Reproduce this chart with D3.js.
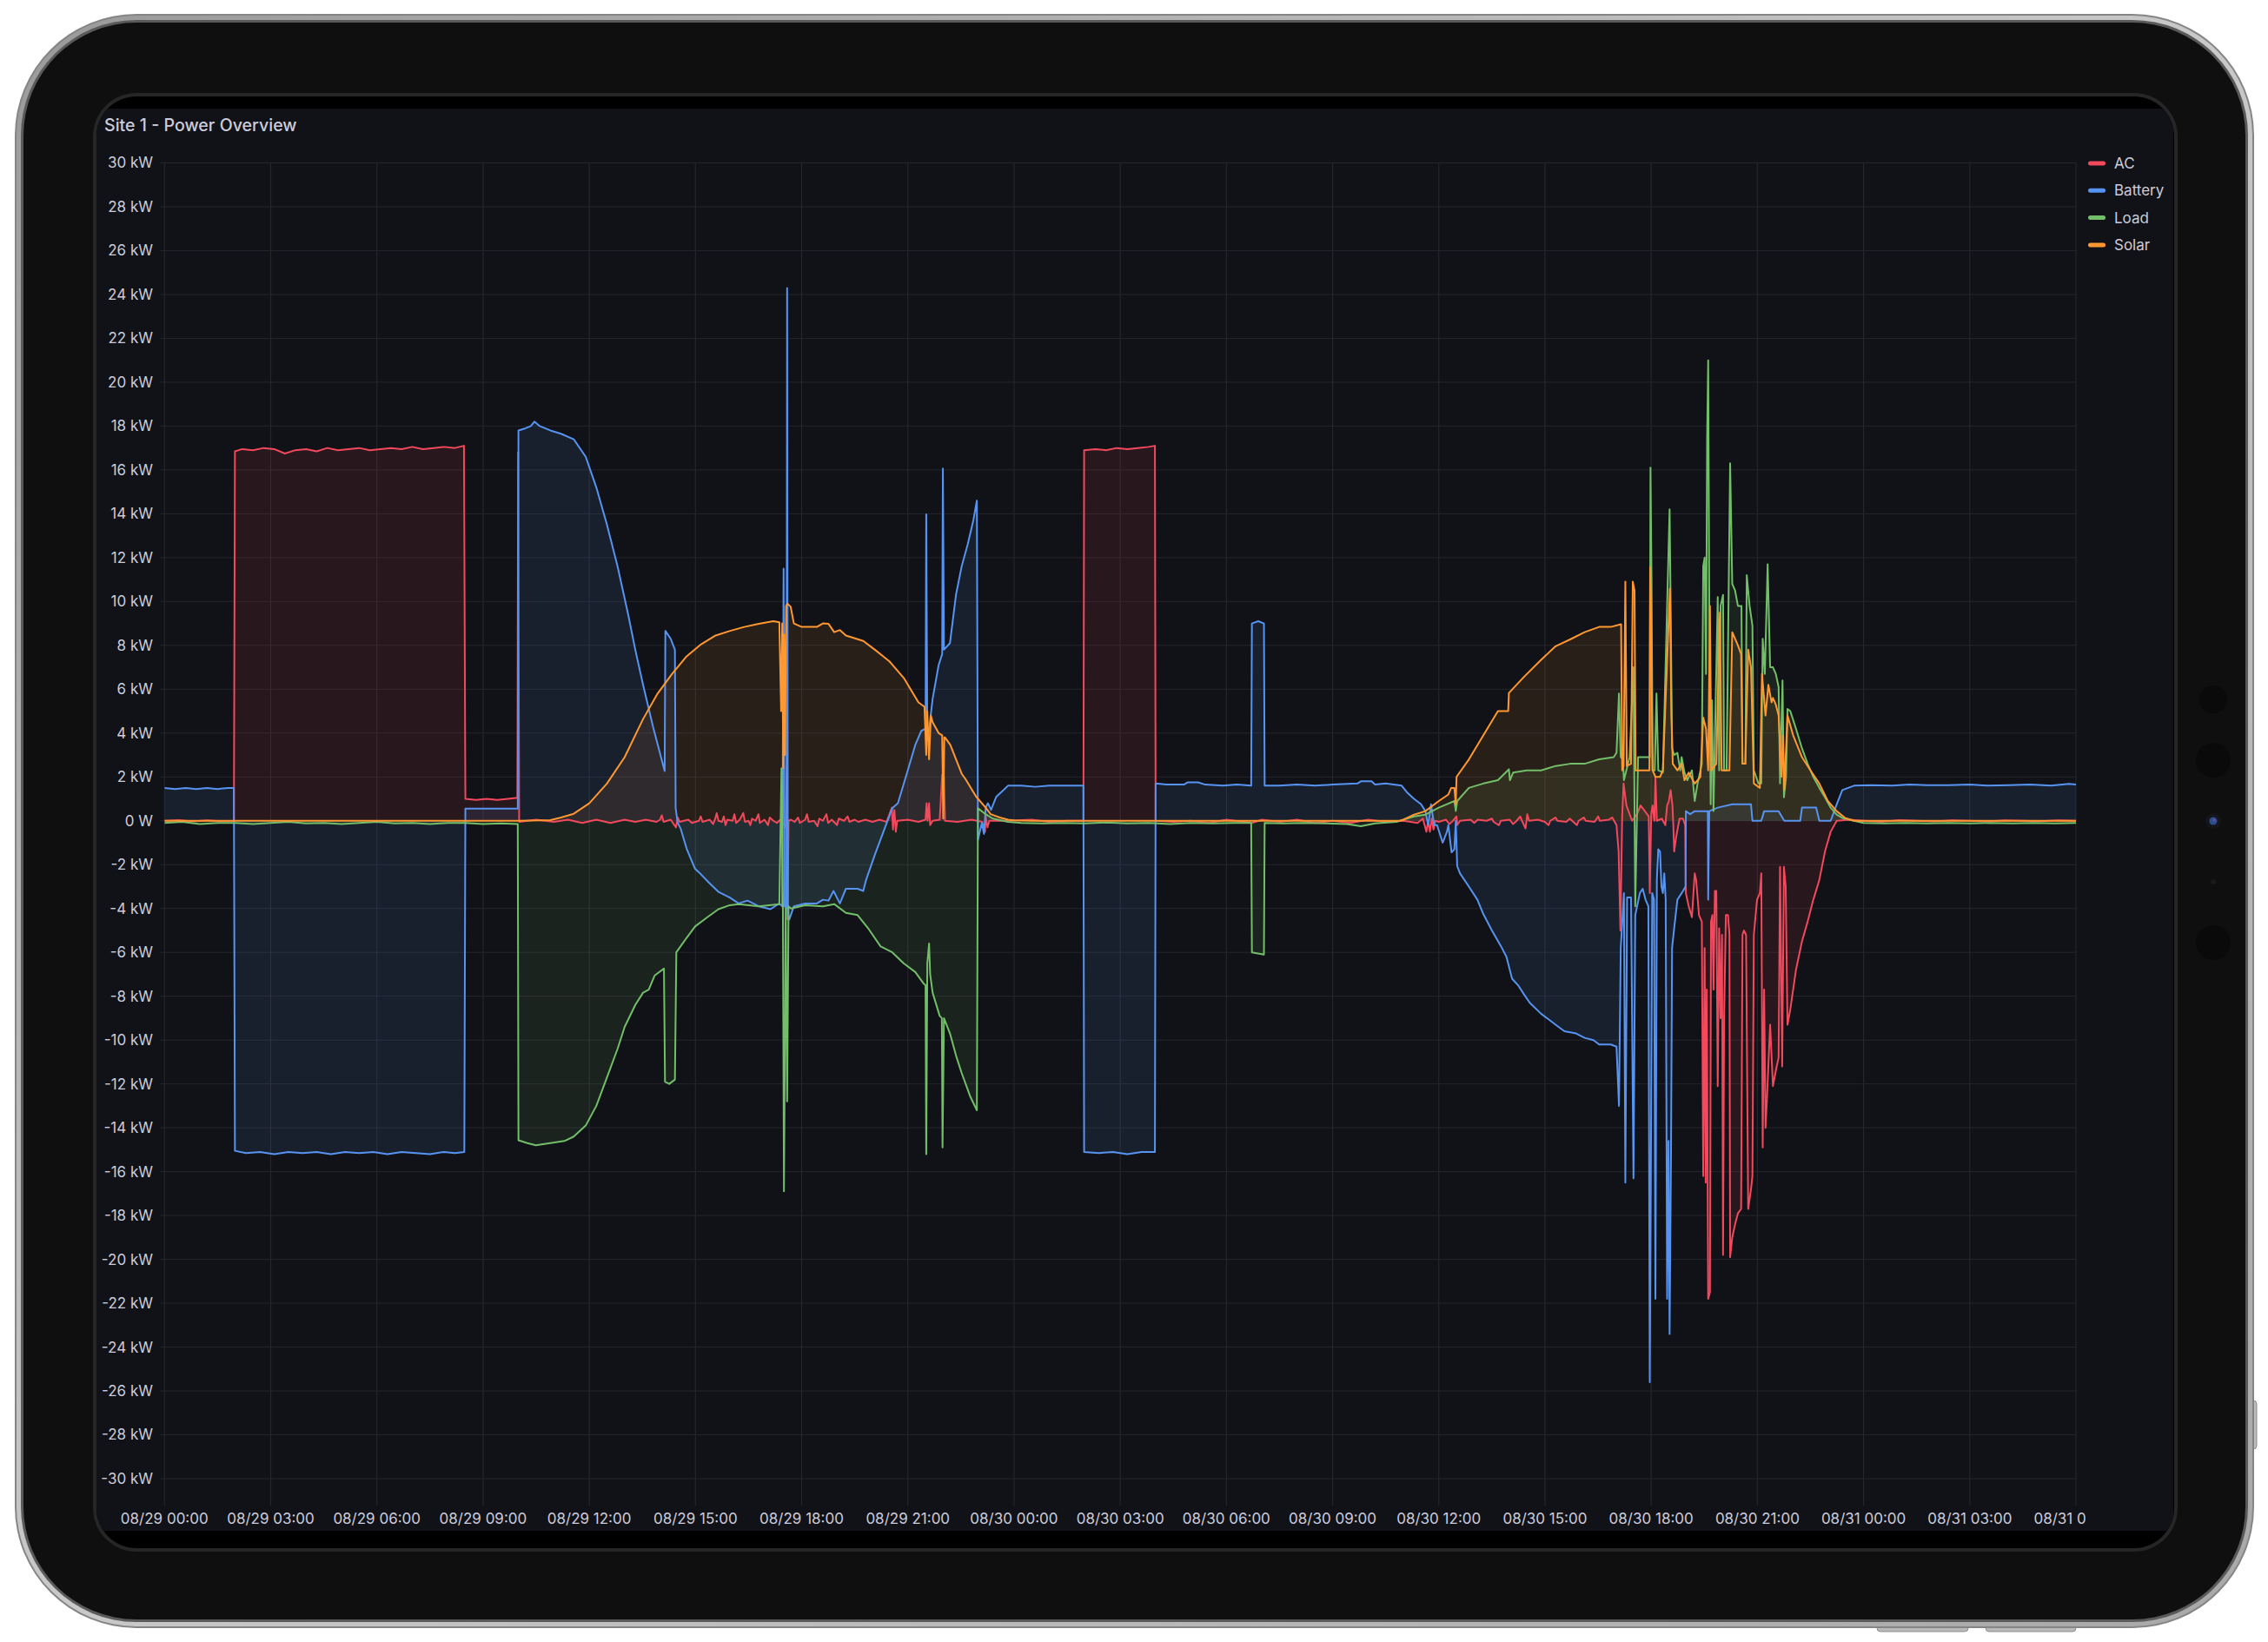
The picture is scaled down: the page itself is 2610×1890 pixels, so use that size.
<!DOCTYPE html>
<html>
<head>
<meta charset="utf-8">
<script src="https://cdn.jsdelivr.net/npm/d3@7"></script>
<style>
html,body{margin:0;padding:0;background:#ffffff;}
svg{display:block;font-family:Inter,"Noto Sans",sans-serif;}
</style>
</head>
<body>
<svg id="c" width="2610" height="1890"></svg>
<script>
// ---------------- DATA (hours since 08/29 00:00, kW) ----------------
const panelTitle = "Site 1 - Power Overview";
const seriesNames = ["AC", "Battery", "Load", "Solar"];
const yTickValues = d3.range(-30, 31, 2);
const rangeHours = 54;

const acData = [
 [0,0],[0.4,0.03],[0.8,-0.03],[1.2,0.02],[1.6,-0.02],[1.96,0],
 [1.99,16.85],[2.2,16.95],[2.5,16.9],[2.8,17.0],[3.1,16.95],[3.4,16.75],[3.7,16.9],[4.0,16.95],[4.3,16.85],[4.6,17.0],[4.9,16.9],[5.2,16.95],[5.5,17.0],[5.8,16.9],[6.1,16.95],[6.4,17.0],[6.7,16.95],[7.0,17.05],[7.3,16.95],[7.6,17.0],[7.9,17.05],[8.2,17.0],[8.46,17.1],
 [8.5,1.0],[8.8,0.95],[9.1,1.0],[9.4,0.95],[9.7,1.0],[9.97,1.05],[9.99,16.8],[10.02,-0.05],
 [10.5,0.05],[11.0,-0.05],[11.4,0.05],[11.8,-0.1],[12.2,0.05],[12.6,-0.1],[13.0,0.05],[13.3,-0.05],[13.6,0.05],[13.9,-0.05],[14.0,0.05],[14.05,0.25],[14.1,-0.05],[14.3,0.05],[14.45,-0.3],[14.5,0.15],[14.55,-0.05],[14.8,0.05],[14.9,-0.1],[15.1,0.0],[15.15,0.2],[15.2,-0.05],[15.4,0.05],[15.5,-0.15],[15.55,0.05],[15.6,0.35],[15.65,0.0],[15.75,-0.05],[15.8,0.2],[15.85,-0.2],[15.9,0.05],[16.05,0.0],[16.1,0.3],[16.15,-0.1],[16.25,0.05],[16.35,0.35],[16.4,-0.05],[16.5,0.0],[16.55,-0.2],[16.6,0.1],[16.7,0.0],[16.78,0.3],[16.82,-0.1],[16.95,0.05],[17.05,-0.2],[17.1,0.15],[17.2,0.0],[17.3,-0.1],[17.4,0.05],[17.55,-0.3],[17.58,2.5],[17.6,-4.5],[17.63,0.0],[17.7,0.05],[17.8,-0.05],[17.9,0.15],[17.95,-0.1],[18.1,0.05],[18.15,0.3],[18.2,-0.05],[18.35,0.0],[18.45,-0.25],[18.5,0.1],[18.6,0.0],[18.7,0.3],[18.75,-0.1],[18.85,0.05],[19.0,-0.2],[19.05,0.1],[19.2,0.0],[19.3,0.2],[19.35,-0.05],[19.5,0.05],[19.6,-0.05],[19.8,0.05],[20.0,-0.05],[20.2,0.05],[20.4,-0.05],[20.55,0.6],[20.58,-0.4],[20.62,0.5],[20.66,-0.5],[20.7,0.0],[21.0,0.05],[21.3,-0.05],[21.5,0.05],[21.53,0.8],[21.56,0.0],[21.6,0.8],[21.63,-0.2],[21.7,0.0],[21.9,0.05],[21.97,2.1],[22.02,2.0],[22.05,0.0],[22.4,-0.05],[22.8,0.05],[23.1,-0.05],[23.18,-0.5],[23.2,0.2],[23.25,-0.3],[23.3,0.0],[23.8,0.0],[24.5,0.05],[25.0,-0.05],[25.5,0.0],[25.96,0.0],
 [25.98,16.9],[26.3,16.95],[26.6,16.9],[26.9,17.0],[27.2,16.95],[27.5,17.0],[27.8,17.05],[27.98,17.1],[28.0,0.0],
 [28.5,-0.05],[29,0],[29.5,-0.1],[30,0.05],[30.5,-0.05],[30.72,-0.1],[31,0.05],[31.5,-0.05],[32,0.05],[32.5,-0.1],[33,0],[33.5,-0.1],[34,0.05],[34.5,-0.05],[35,0],[35.4,-0.1],[35.55,0.1],[35.65,-0.5],[35.7,0],[35.75,-0.5],[35.8,0.1],[35.85,-0.4],[35.9,0],[36.0,-0.05],[36.2,0.05],[36.3,-0.15],[36.4,0.0],[36.5,0.2],[36.52,-0.2],[36.6,0.0],[36.9,0.05],[37.0,-0.1],[37.1,0.05],[37.35,0.0],[37.5,0.1],[37.55,-0.05],[37.7,-0.2],[37.75,0.0],[38.0,0.05],[38.1,-0.15],[38.2,0.0],[38.3,0.2],[38.35,0.0],[38.45,-0.35],[38.5,0.3],[38.55,0.0],[38.8,0.05],[39.0,-0.05],[39.1,-0.2],[39.15,0.0],[39.3,0.15],[39.35,0.0],[39.6,-0.05],[39.7,0.1],[39.9,-0.2],[39.95,0.0],[40.1,0.15],[40.15,0.0],[40.4,-0.05],[40.5,0.2],[40.55,0.0],[40.8,0.05],[40.9,0.15],[41.02,-0.2],
 [41.08,-1.4],[41.13,-5.0],[41.18,0.2],[41.22,1.7],[41.3,0.7],[41.46,0],[41.6,0.3],[41.7,0.7],[41.84,0.4],[41.93,0.2],[41.96,-3.3],[42.0,0.3],[42.04,0.7],[42.09,0],[42.12,2.0],[42.16,0],[42.3,0.1],[42.4,-0.2],[42.45,0.7],[42.5,0.9],[42.55,1.4],[42.6,0.7],[42.62,0],[42.65,-1.4],[42.7,-0.8],[42.8,0.1],[42.9,0.1],[42.96,-0.2],
 [42.98,-3.3],[43.06,-3.9],[43.15,-4.4],[43.23,-2.4],[43.27,-2.7],[43.35,-4.3],[43.43,-4.6],[43.47,-16.2],[43.51,-5.8],[43.54,-16.5],[43.57,-7.7],[43.61,-21.8],[43.66,-21.5],[43.69,-4.6],[43.73,-4.3],[43.76,-7.7],[43.8,-3.2],[43.84,-3.2],[43.88,-12.1],[43.92,-4.9],[43.96,-9.0],[44.0,-5.2],[44.03,-19.8],[44.06,-9.0],[44.11,-4.3],[44.17,-4.3],[44.21,-5.2],[44.23,-19.9],[44.29,-19.0],[44.37,-18.4],[44.45,-17.9],[44.54,-17.7],[44.58,-5.2],[44.62,-5.0],[44.68,-5.2],[44.74,-17.7],[44.82,-16.8],[44.86,-16.2],[44.9,-5.2],[44.99,-3.6],[45.07,-3.3],[45.11,-2.4],[45.15,-14.9],[45.19,-7.7],[45.23,-14.0],[45.27,-12.7],[45.36,-9.3],[45.44,-12.1],[45.52,-11.4],[45.6,-10.8],[45.64,-2.1],[45.7,-11.2],[45.75,-2.1],[45.8,-3.0],[45.85,-9.3],[45.93,-8.6],[46.09,-6.8],[46.26,-5.5],[46.42,-4.6],[46.58,-3.6],[46.75,-2.7],[46.91,-1.4],[47.07,-0.5],[47.24,0],
 [47.6,0.05],[48,0],[48.5,-0.05],[49,0.03],[49.5,0],[50,-0.03],[50.5,0.02],[51,0],[51.5,-0.03],[52,0.02],[52.5,0],[53,-0.02],[53.5,0.02],[54,0]
];

const batteryData = [
 [0,1.5],[0.3,1.45],[0.6,1.5],[0.9,1.45],[1.2,1.5],[1.5,1.45],[1.8,1.5],[1.96,1.5],
 [1.99,-15.05],[2.3,-15.15],[2.7,-15.1],[3.1,-15.2],[3.5,-15.1],[3.9,-15.15],[4.3,-15.1],[4.7,-15.2],[5.1,-15.1],[5.5,-15.15],[5.9,-15.1],[6.3,-15.2],[6.7,-15.1],[7.1,-15.15],[7.5,-15.2],[7.9,-15.1],[8.2,-15.15],[8.47,-15.1],
 [8.5,0.55],[9.0,0.55],[9.5,0.55],[9.98,0.55],
 [10.0,17.8],[10.2,17.9],[10.35,18.0],[10.45,18.2],[10.6,18.0],[10.9,17.8],[11.2,17.65],[11.56,17.4],[11.9,16.6],[12.2,15.2],[12.5,13.5],[12.8,11.6],[13.1,9.4],[13.3,7.8],[13.52,6.2],[13.8,4.3],[14.13,2.27],
 [14.15,8.66],[14.3,8.3],[14.42,7.8],[14.44,0.57],[14.5,-0.1],[14.58,-0.35],[14.75,-1.27],[14.99,-2.19],[15.16,-2.45],[15.4,-2.85],[15.65,-3.24],[15.97,-3.5],[16.22,-3.77],[16.47,-3.64],[16.79,-3.9],[17.12,-4.03],[17.37,-3.77],[17.45,-3.9],[17.49,11.5],[17.52,-3.9],[17.57,-4.0],[17.59,24.3],[17.61,-4.2],[17.65,-4.5],[17.78,-3.9],[18.1,-3.77],[18.43,-3.77],[18.6,-3.6],[18.76,-3.64],[18.9,-3.2],[19.08,-3.77],[19.25,-3.1],[19.58,-3.1],[19.74,-3.2],[19.82,-2.7],[20.07,-1.54],[20.31,-0.5],[20.56,0.57],[20.72,0.8],[20.97,2.15],[21.21,3.46],[21.38,4.1],[21.5,4.2],[21.52,13.97],[21.55,4.0],[21.58,3.9],[21.7,5.56],[21.87,7.1],[21.97,7.6],[21.99,16.06],[22.02,7.8],[22.19,8.1],[22.36,10.3],[22.52,11.6],[22.69,12.6],[22.85,13.7],[22.95,14.6],
 [22.98,-0.87],[23.09,-0.1],[23.15,-0.6],[23.2,0.6],[23.26,0.8],[23.35,0.5],[23.5,1.1],[23.7,1.4],[23.83,1.6],[24.2,1.6],[24.6,1.55],[25.0,1.6],[25.5,1.6],[25.96,1.6],
 [25.98,-15.1],[26.4,-15.15],[26.8,-15.1],[27.2,-15.2],[27.6,-15.1],[27.98,-15.1],
 [28.0,1.7],[28.3,1.65],[28.8,1.65],[28.9,1.75],[29.2,1.75],[29.4,1.65],[29.9,1.6],[30.3,1.65],[30.7,1.6],
 [30.72,9.0],[30.9,9.1],[31.06,9.0],[31.08,1.6],[31.5,1.6],[32.0,1.65],[32.5,1.6],[33.0,1.65],[33.7,1.7],[33.8,1.8],[34.1,1.8],[34.2,1.65],[34.5,1.7],[34.95,1.6],[35.1,1.3],[35.3,1.0],[35.5,0.75],
 [35.62,0.44],[35.7,-0.2],[35.78,0.75],[35.87,-0.2],[35.95,-0.2],[36.11,-1.0],[36.23,-0.5],[36.27,-0.2],[36.36,-1.44],[36.44,-1.3],[36.48,0],[36.52,-2.07],[36.6,-2.4],[36.85,-3.0],[37.09,-3.6],[37.26,-4.26],[37.5,-5.0],[37.75,-5.7],[37.91,-6.2],[38.07,-7.2],[38.24,-7.5],[38.4,-7.9],[38.57,-8.3],[38.89,-8.8],[39.14,-9.1],[39.3,-9.3],[39.55,-9.6],[39.88,-9.7],[40.12,-9.9],[40.37,-10.0],[40.53,-10.2],[40.86,-10.2],[41.02,-10.3],
 [41.09,-13.0],[41.14,-5.8],[41.23,-3.3],[41.27,-16.5],[41.32,-3.5],[41.43,-3.5],[41.5,-16.3],[41.55,-4.3],[41.68,-3.3],[41.76,-3.1],[41.84,-3.6],[41.92,-3.9],[41.96,-25.6],[42.03,-3.3],[42.08,-3.6],[42.12,-21.8],[42.16,-2.7],[42.2,-1.3],[42.25,-1.4],[42.29,-3.0],[42.33,-3.3],[42.37,-2.4],[42.41,-3.6],[42.45,-21.8],[42.49,-14.6],[42.52,-23.4],[42.56,-15.2],[42.59,-5.8],[42.65,-4.9],[42.74,-3.6],[42.9,-3.2],[42.97,-3.0],
 [42.98,0.44],[43.1,0.3],[43.23,0.44],[43.4,0.44],[43.6,0.44],[43.61,-3.6],[43.64,0.44],[43.88,0.6],[44.29,0.75],[44.82,0.75],[44.86,0],[45.11,0],[45.19,0.44],[45.6,0.44],[45.76,0],[46.21,0],[46.26,0.6],[46.66,0.6],[46.75,0],[47.07,0],[47.24,0.75],[47.4,1.4],[47.73,1.6],[48.2,1.62],[48.8,1.6],[49.3,1.65],[49.8,1.62],[50.4,1.62],[51.0,1.65],[51.5,1.6],[52.1,1.62],[52.7,1.65],[53.3,1.6],[53.8,1.68],[54,1.65]
];

const loadData = [
 [0,-0.1],[0.5,-0.05],[1.0,-0.15],[1.5,-0.1],[2.0,-0.1],[2.5,-0.15],[3.0,-0.1],[3.5,-0.05],[4.0,-0.12],[4.5,-0.1],[5.0,-0.15],[5.5,-0.1],[6.0,-0.05],[6.5,-0.12],[7.0,-0.1],[7.5,-0.15],[8.0,-0.1],[8.5,-0.1],[9.0,-0.15],[9.5,-0.12],[9.98,-0.15],
 [10.0,-14.57],[10.25,-14.7],[10.49,-14.8],[10.9,-14.7],[11.3,-14.6],[11.56,-14.4],[11.9,-13.9],[12.2,-13.0],[12.5,-11.7],[12.8,-10.4],[13.0,-9.4],[13.3,-8.4],[13.52,-7.84],[13.68,-7.7],[13.85,-7.05],[14.11,-6.74],
 [14.14,-11.9],[14.26,-12.0],[14.42,-11.8],[14.46,-6.0],[14.75,-5.34],[14.99,-4.82],[15.32,-4.42],[15.65,-4.03],[15.97,-3.85],[16.22,-3.8],[16.79,-3.9],[17.37,-3.8],[17.43,2.4],[17.47,-3.8],[17.5,-16.9],[17.55,-4.0],[17.59,-12.8],[17.63,-3.9],[17.7,-4.0],[18.1,-3.85],[18.6,-3.9],[18.92,-3.8],[19.25,-4.2],[19.58,-4.3],[19.9,-4.95],[20.23,-5.73],[20.56,-6.0],[20.88,-6.5],[21.21,-6.9],[21.46,-7.45],[21.5,-7.5],[21.52,-15.2],[21.55,-6.5],[21.6,-5.6],[21.63,-7.0],[21.7,-7.84],[21.9,-8.9],[21.96,-9.0],[21.98,-14.9],[22.02,-9.0],[22.19,-9.7],[22.36,-10.7],[22.52,-11.5],[22.77,-12.6],[22.95,-13.2],
 [22.98,0.57],[23.2,0.3],[23.4,0.1],[23.83,-0.05],[24.2,-0.1],[24.8,-0.12],[25.4,-0.1],[26.0,-0.12],[26.6,-0.08],[27.2,-0.12],[27.8,-0.1],[28.4,-0.15],[29.0,-0.1],[29.6,-0.12],[30.2,-0.1],[30.7,-0.1],
 [30.72,-6.0],[31.06,-6.1],[31.08,-0.1],[31.6,-0.12],[32.2,-0.1],[32.8,-0.12],[33.4,-0.15],[33.8,-0.25],[34.2,-0.12],[34.8,-0.05],
 [35.0,0.05],[35.3,0.2],[35.62,0.28],[36.0,0.6],[36.44,0.9],[36.48,0.45],[36.52,0.9],[36.85,1.5],[37.26,1.7],[37.67,1.85],[37.95,2.3],[37.98,2.35],[38.01,1.85],[38.1,2.2],[38.48,2.3],[38.89,2.3],[39.3,2.5],[39.71,2.6],[40.12,2.6],[40.53,2.8],[40.94,2.9],[41.02,3.1],
 [41.09,5.8],[41.14,2.9],[41.2,2.8],[41.23,1.85],[41.39,2.9],[41.5,7.0],[41.55,-3.9],[41.63,2.9],[41.84,2.9],[41.96,2.9],[41.98,16.1],[42.01,11.0],[42.04,2.3],[42.1,2.3],[42.15,5.8],[42.2,2.3],[42.33,2.2],[42.45,9.8],[42.52,14.2],[42.55,9.8],[42.59,3.3],[42.65,3.0],[42.74,3.1],[42.82,2.3],[42.86,2.9],[42.94,2.2],[43.02,1.85],[43.15,2.3],[43.23,0.9],[43.31,1.7],[43.43,2.6],[43.47,11.6],[43.51,12.0],[43.55,6.7],[43.58,17.4],[43.61,21.0],[43.65,6.7],[43.68,0.75],[43.72,5.5],[43.76,0.45],[43.88,10.2],[43.92,2.3],[43.96,9.8],[44.03,10.3],[44.06,2.3],[44.13,2.3],[44.23,16.3],[44.29,10.8],[44.37,10.5],[44.45,9.8],[44.55,9.8],[44.58,2.6],[44.66,2.6],[44.7,11.2],[44.78,9.8],[44.86,8.9],[44.9,2.3],[45.03,1.7],[45.11,1.7],[45.15,8.3],[45.21,6.7],[45.29,11.7],[45.36,7.0],[45.44,7.0],[45.52,6.7],[45.6,6.1],[45.64,1.7],[45.71,6.4],[45.75,1.07],[45.81,2.0],[45.85,5.1],[45.93,5.0],[46.09,4.2],[46.26,3.3],[46.42,2.6],[46.58,2.0],[46.75,1.5],[46.91,1.07],[47.07,0.6],[47.24,0.28],[47.4,0.13],[47.73,0],
 [48,-0.1],[48.6,-0.12],[49.2,-0.1],[49.8,-0.12],[50.4,-0.1],[51.0,-0.12],[51.6,-0.1],[52.2,-0.12],[52.8,-0.1],[53.4,-0.12],[54,-0.1]
];

const solarData = [
 [0,0],[2,0],[4,0],[6,0],[8,0],[10.0,0],[10.9,0.03],[11.2,0.15],[11.56,0.32],[12.0,0.8],[12.5,1.7],[13.0,2.9],[13.52,4.64],[13.93,5.8],[14.34,6.7],[14.75,7.5],[15.16,8.05],[15.57,8.45],[15.98,8.66],[16.38,8.84],[16.79,8.98],[17.2,9.1],[17.37,9.05],[17.42,5.0],[17.45,9.0],[17.48,2.4],[17.5,8.5],[17.53,3.0],[17.56,9.8],[17.6,9.9],[17.69,9.76],[17.78,9.0],[18.0,8.84],[18.43,8.84],[18.6,9.0],[18.76,8.98],[18.92,8.6],[19.08,8.7],[19.25,8.45],[19.74,8.2],[20.07,7.8],[20.48,7.27],[20.9,6.48],[21.3,5.4],[21.47,5.2],[21.52,3.0],[21.55,5.0],[21.6,2.8],[21.65,4.8],[21.7,4.5],[21.87,4.0],[21.97,3.9],[22.0,0.1],[22.03,3.8],[22.05,3.8],[22.2,3.46],[22.52,2.15],[22.64,1.87],[22.93,1.1],[23.2,0.6],[23.34,0.3],[23.6,0.15],[23.83,0.05],[24.0,0.02],[24.5,0],[28,0],[32,0],[34.9,0],
 [35.0,0.05],[35.3,0.28],[35.62,0.44],[36.0,0.9],[36.27,1.2],[36.35,1.5],[36.44,1.5],[36.48,0.75],[36.5,2.0],[36.85,2.8],[37.26,3.9],[37.67,5.0],[37.96,5.0],[37.98,5.83],[38.4,6.55],[38.89,7.34],[39.3,7.96],[39.71,8.27],[40.12,8.6],[40.53,8.84],[40.86,8.84],[41.15,8.96],
 [41.18,2.3],[41.22,2.5],[41.27,10.9],[41.31,2.5],[41.43,2.6],[41.48,10.9],[41.53,10.5],[41.56,2.3],[41.75,2.3],[41.95,2.3],[41.97,11.56],[41.99,10.0],[42.04,2.3],[42.12,2.0],[42.25,2.0],[42.33,2.3],[42.45,7.3],[42.53,10.6],[42.57,4.8],[42.61,2.6],[42.74,2.3],[42.86,2.6],[42.94,1.85],[43.06,2.2],[43.23,1.7],[43.39,2.0],[43.47,4.7],[43.55,4.2],[43.61,2.3],[43.66,9.8],[43.7,2.3],[43.84,2.6],[43.94,9.5],[43.99,2.3],[44.09,2.3],[44.21,2.3],[44.29,8.6],[44.45,8.0],[44.54,7.6],[44.58,2.6],[44.66,2.6],[44.74,7.8],[44.82,7.0],[44.9,1.7],[45.07,1.5],[45.13,6.7],[45.23,4.8],[45.31,6.2],[45.4,5.4],[45.44,5.6],[45.52,5.3],[45.6,4.8],[45.68,2.0],[45.72,3.9],[45.76,1.4],[45.85,4.8],[46.01,3.9],[46.26,2.9],[46.5,2.3],[46.75,1.7],[46.99,0.9],[47.24,0.44],[47.48,0.13],[47.73,0],[50,0],[54,0]
];

const seriesData = [acData, batteryData, loadData, solarData];

// ---------------- STYLE / LAYOUT ----------------
const colors = ["#F2495C", "#5794F2", "#73BF69", "#FF9830"];
const plot = {left: 189.3, right: 2389, top: 187.5, bottom: 1702};
const textColor = "#ccccdc";
const gridColor = "#25262c";

const svg = d3.select("#c");
const defs = svg.append("defs");

// ---------------- DEVICE FRAME ----------------
svg.append("rect").attr("width", 2610).attr("height", 1890).attr("fill", "#ffffff");

[[2160, 105], [2285, 104]].forEach(([bx, bw]) => {
  svg.append("rect").attr("x", bx).attr("y", 1862).attr("width", bw).attr("height", 16)
    .attr("rx", 4).attr("fill", "#b9b9b9").attr("stroke", "#8d8d8d").attr("stroke-width", 1);
});
svg.append("rect").attr("x", 2585).attr("y", 1612).attr("width", 12).attr("height", 56)
  .attr("rx", 4).attr("fill", "#bdbdbd").attr("stroke", "#8d8d8d").attr("stroke-width", 1);

const rimGrad = defs.append("linearGradient").attr("id", "rim").attr("x1", 0).attr("y1", 0).attr("x2", 1).attr("y2", 1);
rimGrad.append("stop").attr("offset", 0).attr("stop-color", "#9a9a9a");
rimGrad.append("stop").attr("offset", 0.5).attr("stop-color", "#c9c9c9");
rimGrad.append("stop").attr("offset", 1).attr("stop-color", "#a8a8a8");

svg.append("rect").attr("x", 17).attr("y", 16).attr("width", 2577).attr("height", 1858).attr("rx", 140).attr("fill", "#858585");
svg.append("rect").attr("x", 19).attr("y", 18).attr("width", 2573).attr("height", 1854).attr("rx", 138).attr("fill", "url(#rim)");
svg.append("rect").attr("x", 24).attr("y", 23).attr("width", 2563).attr("height", 1844).attr("rx", 133).attr("fill", "#5a5a5a");
svg.append("rect").attr("x", 27).attr("y", 26).attr("width", 2557).attr("height", 1838).attr("rx", 130).attr("fill", "#0f0f0f");

// sensors on right bezel
svg.append("circle").attr("cx", 2547).attr("cy", 805).attr("r", 16).attr("fill", "#0a0a0a");
svg.append("circle").attr("cx", 2547).attr("cy", 875).attr("r", 20).attr("fill", "#0a0a0a");
svg.append("circle").attr("cx", 2547).attr("cy", 945).attr("r", 9).attr("fill", "#15161c");
svg.append("circle").attr("cx", 2547).attr("cy", 945).attr("r", 4.5).attr("fill", "#2a4f8e");
svg.append("circle").attr("cx", 2548).attr("cy", 944).attr("r", 1.5).attr("fill", "#7a4aa0");
svg.append("circle").attr("cx", 2547).attr("cy", 1015).attr("r", 3).attr("fill", "#1a1a1a");
svg.append("circle").attr("cx", 2547).attr("cy", 1085).attr("r", 20).attr("fill", "#0a0a0a");

// screen
svg.append("rect").attr("x", 107).attr("y", 107).attr("width", 2399).attr("height", 1679).attr("rx", 50).attr("fill", "#262626");
svg.append("rect").attr("x", 111).attr("y", 111).attr("width", 2391).attr("height", 1671).attr("rx", 46).attr("fill", "#000000");
defs.append("clipPath").attr("id", "screenClip").append("rect")
  .attr("x", 111).attr("y", 111).attr("width", 2391).attr("height", 1671).attr("rx", 46);

const screen = svg.append("g").attr("clip-path", "url(#screenClip)");
screen.append("rect").attr("x", 111).attr("y", 125).attr("width", 2390).attr("height", 1637).attr("fill", "#111217");

// ---------------- CHART ----------------
const T0 = new Date(2024, 7, 29, 0, 0, 0);
const toDate = h => new Date(T0.getTime() + h * 3600000);
const x = d3.scaleTime().domain([T0, toDate(rangeHours)]).range([plot.left, plot.right]);
const y = d3.scaleLinear().domain([-30, 30]).range([plot.bottom, plot.top]);

screen.append("text").attr("x", 120).attr("y", 151).attr("fill", textColor)
  .attr("font-size", 19.6).attr("font-weight", 500).text(panelTitle);

const gGrid = screen.append("g");
yTickValues.forEach(v => {
  gGrid.append("line").attr("x1", plot.left - 5).attr("x2", plot.right)
    .attr("y1", y(v)).attr("y2", y(v)).attr("stroke", gridColor).attr("stroke-width", 1);
  screen.append("text").attr("x", 176).attr("y", y(v)).attr("dy", "0.35em")
    .attr("text-anchor", "end").attr("fill", textColor).attr("font-size", 17)
    .text(v === 0 ? "0 W" : (v < 0 ? "-" : "") + Math.abs(v) + " kW");
});

const xTicks = x.ticks(d3.timeHour.every(3));
const fmt = d3.timeFormat("%m/%d %H:%M");
defs.append("clipPath").attr("id", "xLabClip").append("rect")
  .attr("x", 100).attr("y", 1700).attr("width", 2300).attr("height", 80);
const xLab = screen.append("g").attr("clip-path", "url(#xLabClip)");
xTicks.forEach(t => {
  gGrid.append("line").attr("x1", x(t)).attr("x2", x(t)).attr("y1", plot.top).attr("y2", 1733)
    .attr("stroke", gridColor).attr("stroke-width", 1.2);
  xLab.append("text").attr("x", x(t)).attr("y", 1754).attr("text-anchor", "middle")
    .attr("fill", textColor).attr("font-size", 17).text(fmt(t));
});

defs.append("clipPath").attr("id", "plotClip").append("rect")
  .attr("x", plot.left).attr("y", 150).attr("width", plot.right - plot.left).attr("height", 1600);
const gData = screen.append("g").attr("clip-path", "url(#plotClip)");
const area = d3.area().x(d => x(toDate(d[0]))).y0(y(0)).y1(d => y(d[1]));
const line = d3.line().x(d => x(toDate(d[0]))).y(d => y(d[1]));
seriesData.forEach((data, i) => {
  gData.append("path").attr("d", area(data)).attr("fill", colors[i]).attr("fill-opacity", 0.1);
});
seriesData.forEach((data, i) => {
  gData.append("path").attr("d", line(data)).attr("fill", "none").attr("stroke", colors[i])
    .attr("stroke-width", 2).attr("stroke-linejoin", "round");
});

seriesNames.forEach((name, i) => {
  const cy = 188 + i * 31.3;
  screen.append("rect").attr("x", 2403).attr("y", cy - 2.5).attr("width", 20).attr("height", 5)
    .attr("rx", 2.5).attr("fill", colors[i]);
  screen.append("text").attr("x", 2433).attr("y", cy).attr("dy", "0.35em")
    .attr("fill", textColor).attr("font-size", 17).text(name);
});
</script>
</body>
</html>
